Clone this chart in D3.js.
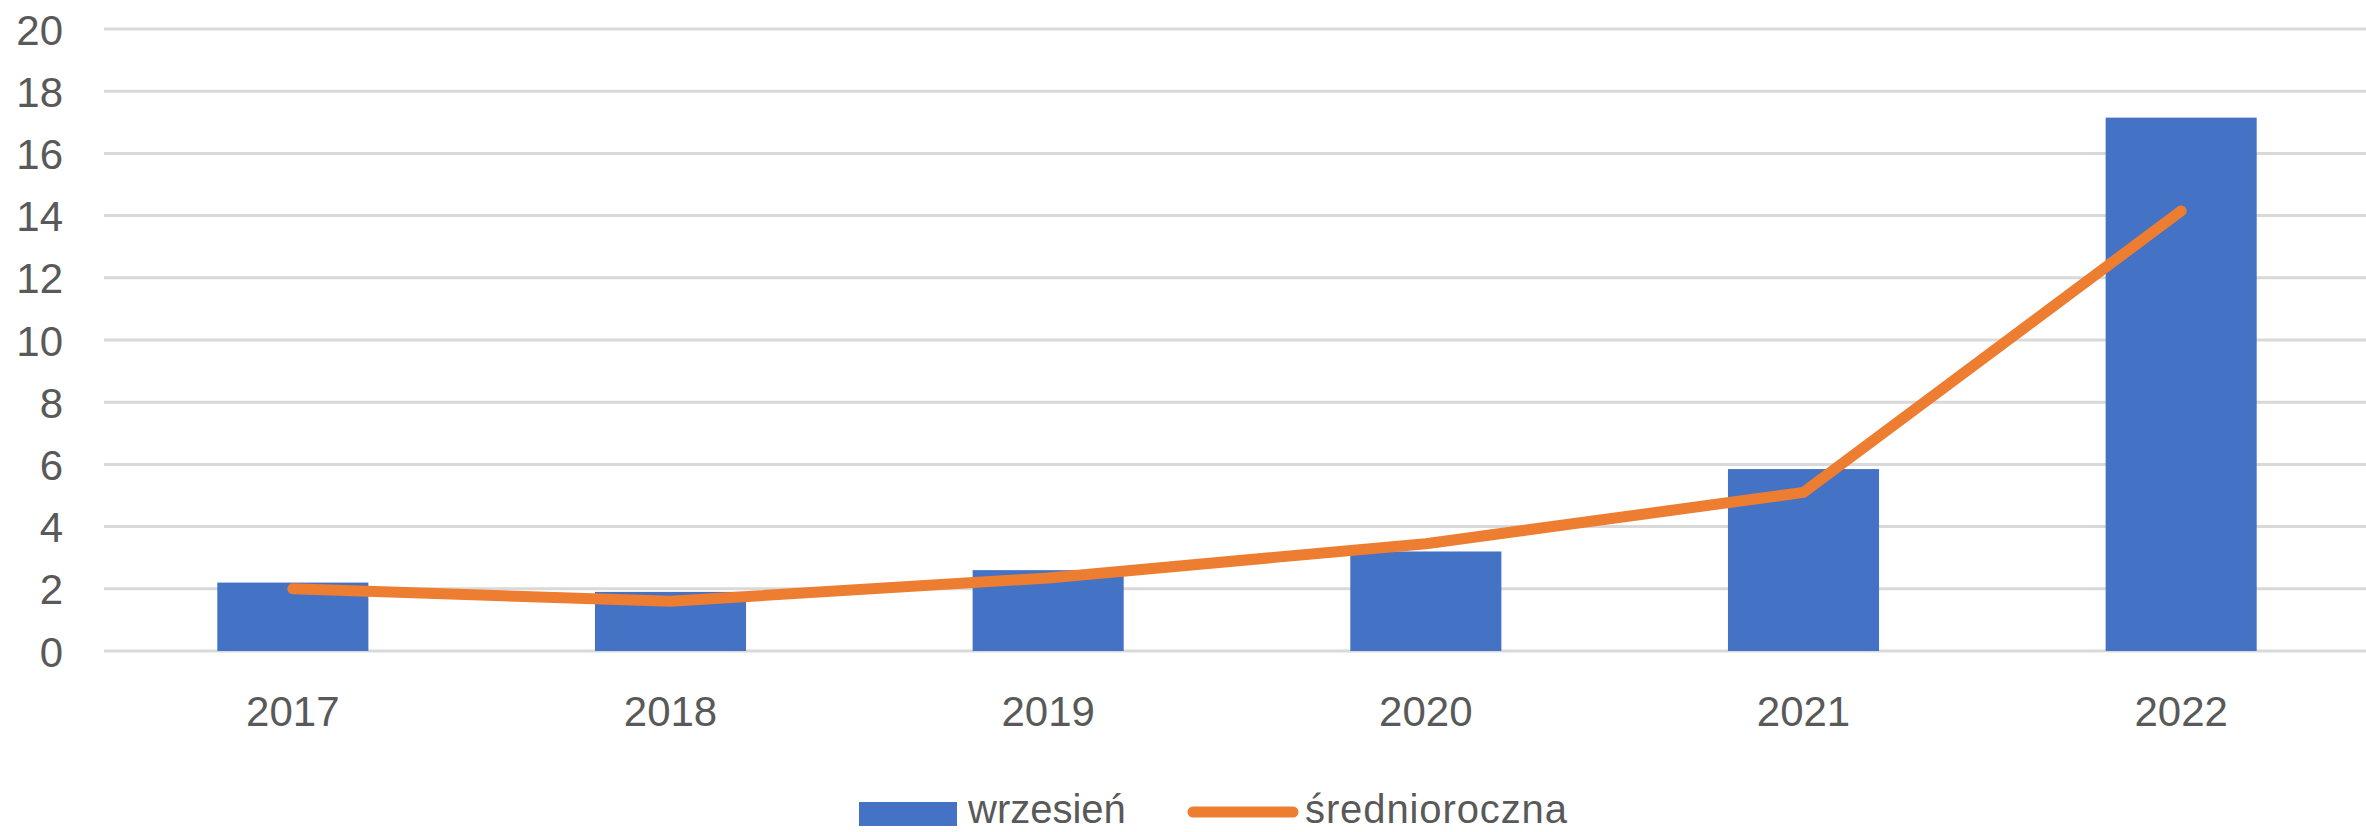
<!DOCTYPE html>
<html>
<head>
<meta charset="utf-8">
<script src="https://cdn.jsdelivr.net/npm/d3@7"></script>
<style>
  html, body { margin: 0; padding: 0; background: #fff; }
  svg { display: block; }
  text { font-family: "Liberation Sans", Arial, sans-serif; fill: #595959; }
</style>
</head>
<body>
<svg id="chart" width="2366" height="832"></svg>
<script>
// data
const years = ['2017', '2018', '2019', '2020', '2021', '2022']
const wrzesien = [2.2, 1.9, 2.6, 3.2, 5.85, 17.15]
const srednioroczna = [2.0, 1.6, 2.35, 3.45, 5.1, 14.15]
const yTicks = [0, 2, 4, 6, 8, 10, 12, 14, 16, 18, 20]
const seriesNames = ['wrzesień', 'średnioroczna']

const blue = '#4472C4'
const orange = '#ED7D31'

const svg = d3.select('#chart')

const x = d3.scaleBand()
    .domain(years)
    .range([104, 2370])
    .padding(0)

const y = d3.scaleLinear()
    .domain([0, 20])
    .range([651, 29])

// gridlines
svg.append('g')
    .selectAll('line')
    .data(yTicks)
    .enter()
    .append('line')
    .attr('x1', 104)
    .attr('x2', 2370)
    .attr('y1', d => y(d))
    .attr('y2', d => y(d))
    .attr('stroke', '#D9D9D9')
    .attr('stroke-width', 3)

// y axis labels
const yAxis = d3.axisLeft(y).tickValues(yTicks).tickSize(0).tickPadding(0)
svg.append('g')
    .attr('transform', 'translate(63,0)')
    .call(yAxis)
    .call(g => g.select('.domain').remove())
    .selectAll('text')
    .attr('font-size', 42)
    .attr('font-family', '"Liberation Sans", Arial, sans-serif')
    .attr('fill', '#595959')
    .attr('dy', '0.36em')

// x axis labels
const xAxis = d3.axisBottom(x).tickSize(0).tickPadding(0)
svg.append('g')
    .attr('transform', 'translate(0,651)')
    .call(xAxis)
    .call(g => g.select('.domain').remove())
    .selectAll('text')
    .attr('font-size', 42)
    .attr('font-family', '"Liberation Sans", Arial, sans-serif')
    .attr('fill', '#595959')
    .attr('dy', 0)
    .attr('y', 75)

// bars
const bw = x.bandwidth()
svg.append('g')
    .selectAll('rect')
    .data(wrzesien)
    .enter()
    .append('rect')
    .attr('x', (d, i) => x(years[i]) + bw * 0.3)
    .attr('width', bw * 0.4)
    .attr('y', d => y(d))
    .attr('height', d => y(0) - y(d))
    .attr('fill', blue)

// line
const line = d3.line()
    .x((d, i) => x(years[i]) + bw / 2)
    .y(d => y(d))

svg.append('path')
    .datum(srednioroczna)
    .attr('d', line)
    .attr('fill', 'none')
    .attr('stroke', orange)
    .attr('stroke-width', 11)
    .attr('stroke-linecap', 'round')
    .attr('stroke-linejoin', 'round')

// legend
const legend = svg.append('g')
legend.append('rect')
    .attr('x', 859).attr('y', 802)
    .attr('width', 98).attr('height', 24)
    .attr('fill', blue)
legend.append('text')
    .attr('x', 968).attr('y', 823)
    .attr('font-size', 40)
    .text(seriesNames[0])
legend.append('line')
    .attr('x1', 1193).attr('x2', 1293)
    .attr('y1', 812).attr('y2', 812)
    .attr('stroke', orange)
    .attr('stroke-width', 11)
    .attr('stroke-linecap', 'round')
legend.append('text')
    .attr('x', 1305).attr('y', 823)
    .attr('font-size', 40)
    .attr('textLength', 262)
    .text(seriesNames[1])
</script>
</body>
</html>
